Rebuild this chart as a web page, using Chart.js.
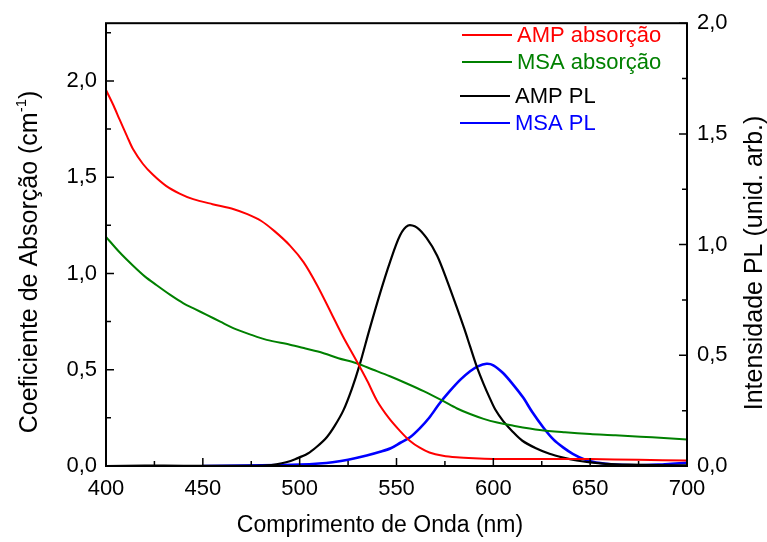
<!DOCTYPE html>
<html><head><meta charset="utf-8">
<script src="https://cdn.jsdelivr.net/npm/chart.js@4"></script>
<style>html,body{margin:0;padding:0;background:#fff}</style>
</head><body>
<canvas id="c" width="767" height="542"></canvas>
<script>
// ---- data ----
const ampAbsNm = [400,404,407,411,414,419,424,431,438,445,455,466,473,480,487,495,502,509,516,522.5,529.4,535,540,546,552,557,562,567,574,581,590,600,620,650,675,700];
const ampAbsVal = [1.953,1.87,1.80,1.71,1.645,1.57,1.515,1.455,1.415,1.386,1.36,1.334,1.308,1.274,1.22,1.145,1.059,0.939,0.80,0.67,0.545,0.44,0.338,0.25,0.18,0.13,0.095,0.07,0.053,0.045,0.04,0.037,0.036,0.036,0.032,0.028];

const msaAbsNm = [400,407,414,420,426,433,440,446,452,459,466,474,483,495,503,512,520,529,538,546.6,555,564,574,581,588,595,602,610,624,637,650,663,676,688,700];
const msaAbsVal = [1.19,1.11,1.04,0.985,0.94,0.89,0.845,0.815,0.785,0.75,0.715,0.685,0.655,0.63,0.61,0.587,0.56,0.535,0.50,0.466,0.43,0.389,0.338,0.30,0.27,0.245,0.226,0.21,0.187,0.175,0.166,0.16,0.152,0.146,0.138];

const ampPlNm = [400,420,440,460,475,483,488,493,498,504,509,514,518,522.5,527,531,536,541.5,546.6,551.8,556,560.4,565.5,571,576,581,585,588,591.4,595,598,601,605,610,615,622,629,636,643,650,658,670,685,700];
const ampPlVal = [0,0.002,0.001,0.001,0.001,0.003,0.008,0.017,0.032,0.055,0.088,0.13,0.18,0.25,0.35,0.458,0.615,0.78,0.92,1.041,1.086,1.078,1.03,0.95,0.84,0.72,0.62,0.54,0.45,0.37,0.31,0.255,0.204,0.155,0.114,0.08,0.055,0.038,0.025,0.016,0.01,0.006,0.004,0.003];

const msaPlNm = [450,470,490,500,510,517,525,534.6,542,547,552,557,562,567,572,577.6,583,588,592,596.5,600,605,610,615.4,620,625.8,631,636,641,646.5,652,658.5,665,675,685,692,700];
const msaPlVal = [0,0.002,0.004,0.006,0.011,0.017,0.028,0.047,0.065,0.08,0.105,0.13,0.17,0.219,0.28,0.339,0.39,0.428,0.45,0.462,0.455,0.42,0.37,0.309,0.245,0.174,0.12,0.084,0.055,0.032,0.018,0.01,0.005,0.003,0.006,0.01,0.015];

const xTicks = [400,450,500,550,600,650,700];
const leftTicks = [0,0.5,1.0,1.5,2.0];
const rightTicks = [0,0.5,1.0,1.5,2.0];

const seriesNames = ['AMP absorção','MSA absorção','AMP PL','MSA PL'];
const seriesColors = ['#ff0000','#008000','#000000','#0000ff'];
const xTitle = 'Comprimento de Onda (nm)';
const yTitleMain = 'Coeficiente de Absorção (cm';
const yTitleSup = '-1';
const yTitleEnd = ')';
const y2Title = 'Intensidade PL (unid. arb.)';

const toPts = (xs, ys) => xs.map((x,i)=>({x:x, y:ys[i]}));
const fmt = v => v.toFixed(1).replace('.', ',');
const FONT = '"Liberation Sans", Arial, sans-serif';

const decoPlugin = {
  id: 'deco',
  afterDatasetsDraw(chart){
    const {ctx, chartArea:a, scales} = chart;
    const xs = scales.x, yl = scales.y, yr = scales.y2;
    ctx.save();
    ctx.strokeStyle = '#000';
    ctx.lineWidth = 2;
    ctx.strokeRect(a.left, a.top, a.right - a.left, a.bottom - a.top);
    ctx.lineWidth = 1.5;
    ctx.beginPath();
    for (let i=0;i<xTicks.length;i++){
      const p = xs.getPixelForValue(xTicks[i]);
      ctx.moveTo(p, a.bottom); ctx.lineTo(p, a.bottom-8);
      if (i < xTicks.length-1){
        const m = xs.getPixelForValue((xTicks[i]+xTicks[i+1])/2);
        ctx.moveTo(m, a.bottom); ctx.lineTo(m, a.bottom-5);
      }
    }
    for (let i=0;i<leftTicks.length;i++){
      const p = yl.getPixelForValue(leftTicks[i]);
      ctx.moveTo(a.left, p); ctx.lineTo(a.left+8, p);
      const m = yl.getPixelForValue(leftTicks[i]+0.25);
      ctx.moveTo(a.left, m); ctx.lineTo(a.left+5, m);
    }
    for (let i=0;i<rightTicks.length;i++){
      const p = yr.getPixelForValue(rightTicks[i]);
      ctx.moveTo(a.right, p); ctx.lineTo(a.right-8, p);
      if (i < rightTicks.length-1){
        const m = yr.getPixelForValue((rightTicks[i]+rightTicks[i+1])/2);
        ctx.moveTo(a.right, m); ctx.lineTo(a.right-5, m);
      }
    }
    ctx.stroke();

    // legend
    const legY = [35, 62, 96, 123];
    const legX0 = [a.left+356, a.left+356, a.left+354, a.left+354];
    ctx.font = '22px ' + FONT;
    ctx.textBaseline = 'middle';
    ctx.textAlign = 'left';
    for (let i=0;i<seriesNames.length;i++){
      ctx.strokeStyle = seriesColors[i];
      ctx.fillStyle = seriesColors[i];
      ctx.lineWidth = 2;
      ctx.beginPath();
      ctx.moveTo(legX0[i], legY[i]); ctx.lineTo(legX0[i]+50, legY[i]);
      ctx.stroke();
      ctx.fillText(seriesNames[i], legX0[i]+55, legY[i]+1);
    }

    ctx.fillStyle = '#000';
    // x axis title
    ctx.font = '23px ' + FONT;
    ctx.textAlign = 'center';
    ctx.textBaseline = 'alphabetic';
    ctx.fillText(xTitle, 380, 532);

    // left axis title with superscript
    const T = '25px ' + FONT, S = '15px ' + FONT;
    ctx.save();
    ctx.translate(37, 262);
    ctx.rotate(-Math.PI/2);
    ctx.textAlign = 'left';
    ctx.font = T;
    const w1 = ctx.measureText(yTitleMain).width;
    const w3 = ctx.measureText(yTitleEnd).width;
    ctx.font = S;
    const w2 = ctx.measureText(yTitleSup).width;
    const x0 = -(w1+w2+w3)/2;
    ctx.font = T;
    ctx.fillText(yTitleMain, x0, 0);
    ctx.font = S;
    ctx.fillText(yTitleSup, x0+w1, -11);
    ctx.font = T;
    ctx.fillText(yTitleEnd, x0+w1+w2, 0);
    ctx.restore();

    // right axis title (reads bottom to top)
    ctx.save();
    ctx.translate(762, 263);
    ctx.rotate(-Math.PI/2);
    ctx.font = T;
    ctx.textAlign = 'center';
    ctx.fillText(y2Title, 0, 0);
    ctx.restore();
    ctx.restore();
  }
};

const mkDs = (i, xs, ys, axis, w) => ({
  label: seriesNames[i], data: toPts(xs, ys), yAxisID: axis,
  borderColor: seriesColors[i], backgroundColor: seriesColors[i],
  borderWidth: w, pointRadius: 0, tension: 0.3, fill: false
});

new Chart(document.getElementById('c'), {
  type: 'line',
  data: { datasets: [
    mkDs(0, ampAbsNm, ampAbsVal, 'y', 2),
    mkDs(1, msaAbsNm, msaAbsVal, 'y', 2),
    mkDs(2, ampPlNm, ampPlVal, 'y2', 2.2),
    mkDs(3, msaPlNm, msaPlVal, 'y2', 2.6)
  ]},
  options: {
    responsive: false, animation: false, devicePixelRatio: 1,
    layout: { padding: { top: 20, left: 0, right: 0, bottom: 0 } },
    plugins: { legend: { display: false }, tooltip: { enabled: false } },
    scales: {
      x: {
        type: 'linear', min: 400, max: 700,
        afterBuildTicks: s => { s.ticks = xTicks.map(v=>({value:v})); },
        afterFit: s => { s.height = 76; },
        grid: { display: false, drawTicks: false }, border: { display: false },
        ticks: { color: '#000', font: { family: FONT, size: 22 }, padding: 10, maxRotation: 0, callback: v => String(v) }
      },
      y: {
        type: 'linear', position: 'left', min: 0, max: 2.3,
        afterBuildTicks: s => { s.ticks = leftTicks.map(v=>({value:v})); },
        afterFit: s => { s.width = 106; },
        grid: { display: false, drawTicks: false }, border: { display: false },
        ticks: { color: '#000', font: { family: FONT, size: 22 }, padding: 9, callback: v => fmt(v) }
      },
      y2: {
        type: 'linear', position: 'right', min: 0, max: 2.0,
        afterBuildTicks: s => { s.ticks = rightTicks.map(v=>({value:v})); },
        afterFit: s => { s.width = 80; },
        grid: { display: false, drawTicks: false }, border: { display: false },
        ticks: { color: '#000', font: { family: FONT, size: 22 }, padding: 10, callback: v => fmt(v) }
      }
    }
  },
  plugins: [decoPlugin]
});
</script>
</body></html>
